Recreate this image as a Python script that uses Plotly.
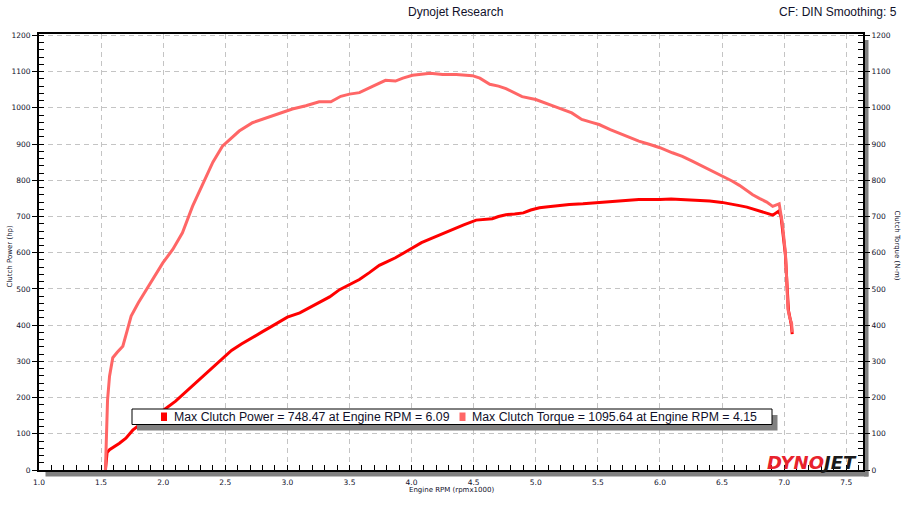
import plotly.graph_objects as go

# ---------------- data ----------------
rpm_power = [1.535, 1.540, 1.548, 1.568, 1.60, 1.648, 1.70, 1.755, 1.80, 1.88, 1.95, 2.01,
             2.10, 2.18, 2.266, 2.35, 2.42, 2.48, 2.55, 2.63, 2.72, 2.80, 2.87, 2.94, 3.00,
             3.10, 3.18, 3.26, 3.34, 3.42, 3.50, 3.58, 3.66, 3.74, 3.80, 3.87, 3.94, 4.00,
             4.08, 4.17, 4.25, 4.33, 4.42, 4.52, 4.58, 4.65, 4.70, 4.76, 4.83, 4.90, 4.96,
             5.03, 5.10, 5.18, 5.27, 5.38, 5.48, 5.56, 5.65, 5.75, 5.83, 5.92, 6.00, 6.09,
             6.18, 6.26, 6.32, 6.40, 6.50, 6.58, 6.64, 6.70, 6.75, 6.80, 6.86, 6.91, 6.935,
             6.957, 6.975, 6.99, 7.01, 7.025, 7.035, 7.05, 7.058, 7.065]
power_hp = [0, 30, 48, 56, 63, 74, 88, 110, 122, 140, 156, 167,
            190, 215, 241, 268, 290, 310, 330, 348, 365, 382, 396, 410, 422,
            434, 448, 463, 478, 498, 512, 526, 545, 565, 575, 586, 600, 613,
            628, 641, 653, 664, 677, 690, 692, 694, 700, 705, 707, 710, 718,
            724, 727, 730, 733, 735, 738, 741, 742, 745, 747, 746, 747, 748.47,
            747, 746, 745, 743, 739, 735, 730, 726, 721, 716, 711, 704, 710,
            715, 700, 660, 595, 500, 440, 415, 400, 375]

rpm_torque = [1.535, 1.545, 1.552, 1.568, 1.594, 1.63, 1.675, 1.71, 1.742, 1.80, 1.863,
              1.93, 1.997, 2.077, 2.155, 2.236, 2.344, 2.40, 2.477, 2.55, 2.612, 2.719,
              2.85, 2.95, 3.04, 3.149, 3.256, 3.35, 3.43, 3.50, 3.58, 3.69, 3.79, 3.87,
              3.93, 4.007, 4.08, 4.15, 4.25, 4.36, 4.49, 4.55, 4.63, 4.70, 4.76, 4.83,
              4.89, 5.00, 5.08, 5.16, 5.29, 5.37, 5.45, 5.51, 5.60, 5.70, 5.83, 5.92,
              6.00, 6.10, 6.18, 6.26, 6.35, 6.42, 6.50, 6.58, 6.64, 6.70, 6.747, 6.80,
              6.86, 6.908, 6.935, 6.96, 6.985, 7.01, 7.02, 7.03, 7.045, 7.06, 7.065]
torque_nm = [0, 120, 194, 259, 310, 325, 342, 385, 425, 462, 498,
             535, 572, 609, 655, 728, 811, 850, 894, 918, 936, 959,
             975, 988, 997, 1006, 1017, 1017, 1032, 1038, 1042, 1060, 1076, 1074,
             1082, 1090, 1093, 1095.64, 1092, 1092, 1089, 1082, 1065, 1060, 1053, 1042,
             1031, 1023, 1014, 1003, 986, 968, 960, 954, 940, 926, 908, 899,
             890, 876, 866, 853, 838, 826, 811, 798, 786, 771, 760, 750,
             740, 728, 732, 735, 683, 600, 530, 445, 420, 406, 380]

x_range = [1.0, 7.635]
y_range = [0, 1204]

title_text = "Dynojet Research"
cf_text = "CF: DIN Smoothing: 5"
x_title = "Engine RPM (rpmx1000)"
y_title_left = "Clutch Power (hp)"
y_title_right = "Clutch Torque (N-m)"
legend_power = "Max Clutch Power = 748.47 at Engine RPM = 6.09"
legend_torque = "Max Clutch Torque = 1095.64 at Engine RPM = 4.15"

POWER_COLOR = "#ff0000"
TORQUE_COLOR = "#ff6666"
TEXT_COLOR = "#10102a"
GRID_COLOR = "#c4c4c4"
SHADOW = "#808080"

W, H = 910, 512
# plot area in window pixels: x 39..863, y 34..470
PL, PR, PT, PB = 39, 863, 34, 470
L, T, R, B = PL, PT, W - PR, H - PB
PW, PH = PR - PL, PB - PT


def px(xp):
    return (xp - PL) / PW


def py(yp):
    return (PB - yp) / PH


fig = go.Figure()
fig.add_trace(go.Scatter(x=rpm_power, y=power_hp, mode="lines",
                         line=dict(color=POWER_COLOR, width=3), yaxis="y",
                         name="Clutch Power", showlegend=False))
fig.add_trace(go.Scatter(x=rpm_torque, y=torque_nm, mode="lines",
                         line=dict(color=TORQUE_COLOR, width=3), yaxis="y2",
                         name="Clutch Torque", showlegend=False))

tickfont = dict(family="DejaVu Sans", size=7.5, color=TEXT_COLOR)

fig.update_layout(
    width=W, height=H,
    margin=dict(l=L, r=R, t=T, b=B, autoexpand=False),
    paper_bgcolor="white", plot_bgcolor="white",
    showlegend=False,
    xaxis=dict(range=x_range, tick0=1.0, dtick=0.5, tickformat=".1f",
               showline=True, linecolor="black", linewidth=2, mirror=True,
               ticks="inside", ticklen=5, tickcolor="black", tickwidth=1,
               tickfont=tickfont, showgrid=True, gridcolor=GRID_COLOR,
               griddash="5px,4px", gridwidth=1, zeroline=False,
               ticklabelstandoff=4,
               minor=dict(dtick=0.1, tick0=1.0, ticks="inside", ticklen=5,
                          tickcolor="black", tickwidth=1, showgrid=False)),
    yaxis=dict(range=y_range, tick0=0, dtick=100,
               showline=True, linecolor="black", linewidth=2,
               ticks="outside", ticklen=5, tickcolor="black", tickwidth=1,
               tickfont=tickfont, showgrid=True, gridcolor=GRID_COLOR,
               griddash="5px,4px", gridwidth=1, zeroline=False,
               ticklabelstandoff=0,
               minor=dict(dtick=20, tick0=0, ticks="inside", ticklen=5,
                          tickcolor="black", tickwidth=1, showgrid=False)),
    yaxis2=dict(range=y_range, tick0=0, dtick=100, overlaying="y", side="right",
                showline=True, linecolor="black", linewidth=2,
                ticks="outside", ticklen=5, tickcolor="black", tickwidth=1,
                tickfont=tickfont, showgrid=False, zeroline=False,
                ticklabelstandoff=0,
                minor=dict(dtick=20, tick0=0, ticks="inside", ticklen=5,
                           tickcolor="black", tickwidth=1, showgrid=False)),
)

shapes = [
    # drop shadows of the plot frame
    dict(type="rect", xref="paper", yref="paper", x0=px(864), x1=px(868.5),
         y0=py(476.5), y1=py(40), fillcolor=SHADOW, line=dict(width=0), layer="below"),
    dict(type="rect", xref="paper", yref="paper", x0=px(45.5), x1=px(868.5),
         y0=py(476.5), y1=py(471.2), fillcolor=SHADOW, line=dict(width=0), layer="below"),
    # legend box shadow + box
    dict(type="rect", xref="paper", yref="paper", x0=px(137), x1=px(777.5),
         y0=py(430.5), y1=py(415), fillcolor=SHADOW, line=dict(width=0), layer="above"),
    dict(type="rect", xref="paper", yref="paper", x0=px(132), x1=px(772),
         y0=py(424.5), y1=py(409), fillcolor="white",
         line=dict(color="black", width=1), layer="above"),
    # legend markers
    dict(type="rect", xref="paper", yref="paper", x0=px(161), x1=px(167),
         y0=py(421), y1=py(412.5), fillcolor=POWER_COLOR, line=dict(width=0), layer="above"),
    dict(type="rect", xref="paper", yref="paper", x0=px(459.5), x1=px(465.5),
         y0=py(421), y1=py(412.5), fillcolor=TORQUE_COLOR, line=dict(width=0), layer="above"),
]
fig.update_layout(shapes=shapes)

annotations = [
    dict(text=title_text, x=px(455), y=py(12), xref="paper", yref="paper",
         xanchor="center", yanchor="middle", showarrow=False,
         font=dict(family="Liberation Sans", size=12, color=TEXT_COLOR)),
    dict(text=cf_text, x=px(899), y=py(12), xref="paper", yref="paper",
         xanchor="right", yanchor="middle", showarrow=False,
         font=dict(family="Liberation Sans", size=12, color=TEXT_COLOR)),
    dict(text=x_title, x=px(451), y=py(490.5), xref="paper", yref="paper",
         xanchor="center", yanchor="middle", showarrow=False,
         font=dict(family="DejaVu Sans", size=7, color=TEXT_COLOR)),
    dict(text=y_title_left, x=px(9.5), y=py(256), xref="paper", yref="paper",
         xanchor="center", yanchor="middle", showarrow=False, textangle=-90,
         font=dict(family="DejaVu Sans", size=7, color=TEXT_COLOR)),
    dict(text=y_title_right, x=px(896.5), y=py(246), xref="paper", yref="paper",
         xanchor="center", yanchor="middle", showarrow=False, textangle=90,
         font=dict(family="DejaVu Sans", size=7, color=TEXT_COLOR)),
    dict(text=legend_power, x=px(171.5), y=py(416.8), xref="paper", yref="paper",
         xanchor="left", yanchor="middle", showarrow=False,
         font=dict(family="Liberation Sans", size=12.3, color=TEXT_COLOR)),
    dict(text=legend_torque, x=px(470), y=py(416.8), xref="paper", yref="paper",
         xanchor="left", yanchor="middle", showarrow=False,
         font=dict(family="Liberation Sans", size=12.3, color=TEXT_COLOR)),
    dict(text="<b><i><span style='color:#e8222c'>DYNO</span>"
              "<span style='color:#1a1a1a'>JET</span></i></b>",
         x=px(859), y=py(462.5), xref="paper", yref="paper",
         xanchor="right", yanchor="middle", showarrow=False,
         font=dict(family="DejaVu Sans", size=18, color="#1a1a1a")),
]
fig.update_layout(annotations=annotations)

# remove the browser's default 8px page margin so the figure fills the window
fig.write_html("out.html",
               config={"displayModeBar": False},
               post_script="document.body.style.margin='0px';"
                           "document.body.style.overflow='hidden';")
